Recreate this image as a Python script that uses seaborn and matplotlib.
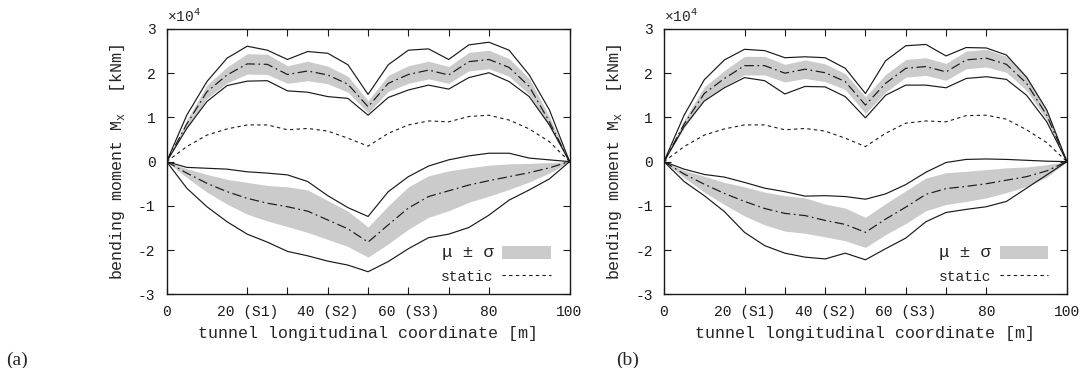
import numpy as np
import pandas as pd
import seaborn as sns
import matplotlib.pyplot as plt

# stations along the tunnel [m]
x = [0, 5, 10, 15, 20, 25, 30, 35, 40, 45, 50, 55, 60, 65, 70, 75, 80, 85, 90, 95, 100]

# panel (a), bending moment [kNm]
a_up_max = [0, 10500, 18100, 23400, 26100, 25200, 23100, 24900, 24500, 21900, 15200, 21900, 25200, 25500, 23100, 26400, 27000, 25200, 19600, 11700, 0]
a_up_mean = [0, 8500, 15800, 19600, 22100, 22000, 19700, 20500, 19600, 17500, 12400, 17700, 19700, 20700, 19600, 22600, 23100, 21300, 17000, 9000, 0]
a_up_sd = [0, 900, 1500, 1800, 2300, 2300, 2000, 2200, 2000, 1800, 1400, 1800, 2000, 2000, 1900, 2100, 2100, 2000, 1800, 1200, 0]
a_up_min = [0, 7500, 13600, 17200, 18200, 18300, 16000, 15700, 14700, 14300, 10500, 14500, 16200, 17300, 16400, 19000, 20100, 18100, 14700, 8300, 0]
a_static = [0, 3400, 6000, 7400, 8300, 8300, 7200, 7500, 6900, 5300, 3500, 6400, 8300, 9200, 9000, 10200, 10500, 9400, 7400, 4500, 0]
a_lo_max = [0, -1300, -1500, -1700, -2300, -2600, -3000, -4500, -7700, -10400, -12400, -6800, -3400, -1000, 400, 1300, 1900, 1900, 800, 400, 0]
a_lo_mean = [0, -2600, -4900, -6800, -8300, -9400, -10200, -11200, -13200, -15200, -18200, -14300, -10500, -7900, -6600, -5300, -4300, -3400, -2500, -1400, 0]
a_lo_sd = [0, 1000, 2000, 2800, 3600, 4000, 4500, 4800, 4400, 4000, 3400, 4300, 4800, 4700, 4500, 3900, 3500, 2900, 2100, 1200, 0]
a_lo_min = [0, -6000, -10200, -13600, -16400, -18200, -20300, -21300, -22500, -23400, -24900, -22600, -19700, -17200, -16400, -14900, -12100, -8700, -6400, -3900, 0]

# panel (b)
b_up_max = [0, 10500, 18500, 23000, 25400, 25100, 23500, 23700, 23500, 21100, 15400, 22800, 26200, 26500, 23900, 25800, 25700, 24100, 19100, 11700, 0]
b_up_mean = [0, 8500, 15400, 18800, 21700, 21700, 20000, 20900, 20100, 18100, 12800, 17700, 21100, 21500, 20300, 23000, 23400, 22000, 17700, 10500, 0]
b_up_sd = [0, 900, 1500, 1800, 2100, 2100, 2000, 2100, 2000, 1800, 1900, 2000, 2000, 2000, 1900, 2000, 2000, 1800, 1600, 1100, 0]
b_up_min = [0, 7900, 13700, 16700, 19000, 18300, 15300, 17000, 16900, 14700, 9900, 15000, 17300, 17300, 16700, 18800, 19200, 18600, 15000, 9000, 0]
b_static = [0, 3400, 6000, 7400, 8300, 8300, 7200, 7500, 6900, 5300, 3400, 6400, 8700, 9200, 9000, 10400, 10500, 9600, 7200, 4300, 0]
b_lo_max = [0, -1700, -2900, -3500, -4700, -6000, -6800, -7800, -7700, -7900, -8500, -7300, -5200, -2400, -200, 500, 600, 500, 300, 100, 0]
b_lo_mean = [0, -2800, -5100, -7200, -9000, -10600, -11700, -12200, -13300, -14200, -16000, -13000, -10300, -7400, -6100, -5600, -5000, -4200, -3400, -2100, 0]
b_lo_sd = [0, 800, 1800, 2500, 3300, 3700, 4000, 4000, 3700, 3700, 3400, 3500, 3700, 3700, 3600, 3400, 3200, 2800, 2200, 1400, 0]
b_lo_min = [0, -4500, -7700, -11300, -16000, -19000, -20700, -21600, -22000, -20700, -22200, -19700, -17300, -13600, -11500, -10800, -10200, -9000, -6000, -3000, 0]

xtick_pos = [0, 20, 30, 40, 50, 60, 70, 80, 100]
xtick_lab = ['0', '20 (S1)', '', '40 (S2)', '', '60 (S3)', '', '80', '100']
ytick_pos = [-3, -2, -1, 0, 1, 2, 3]

panels = {
    '(a)': dict(up_max=a_up_max, up_mean=a_up_mean, up_sd=a_up_sd, up_min=a_up_min,
                static=a_static, lo_max=a_lo_max, lo_mean=a_lo_mean, lo_sd=a_lo_sd, lo_min=a_lo_min),
    '(b)': dict(up_max=b_up_max, up_mean=b_up_mean, up_sd=b_up_sd, up_min=b_up_min,
                static=b_static, lo_max=b_lo_max, lo_mean=b_lo_mean, lo_sd=b_lo_sd, lo_min=b_lo_min),
}

sns.set_theme(style='ticks')
plt.rcParams['font.family'] = ['Liberation Mono', 'DejaVu Sans Mono']
plt.rcParams['font.size'] = 10.5
plt.rcParams['axes.unicode_minus'] = False
plt.rcParams['xtick.direction'] = 'in'
plt.rcParams['ytick.direction'] = 'in'

band_color = '#cbcbcb'
scale = 1e4

fig = plt.figure(figsize=(10.89, 3.68), dpi=100)
lefts = [0.153, 0.6097]

for (tag, d), left in zip(panels.items(), lefts):
    ax = fig.add_axes([left, 0.2003, 0.370, 0.721])
    df = pd.DataFrame({k: np.array(v) / scale for k, v in d.items()})
    df['x'] = x

    # upper and lower envelopes: band = mean +- sd, solid = max/min, dash-dot = mean
    for part in ['up', 'lo']:
        m = df[part + '_mean']
        s = df[part + '_sd']
        band = ax.fill_between(df['x'], m - s, m + s, color=band_color, lw=0, zorder=1)
        sns.lineplot(data=df, x='x', y=part + '_max', ax=ax, color='k', lw=0.85, zorder=3)
        sns.lineplot(data=df, x='x', y=part + '_min', ax=ax, color='k', lw=0.85, zorder=3)
        sns.lineplot(data=df, x='x', y=part + '_mean', ax=ax, color='k', lw=0.85,
                     linestyle=(0, (8, 3, 1.5, 3)), zorder=3)
    sns.lineplot(data=df, x='x', y='static', ax=ax, color='k', lw=0.8,
                 linestyle=(0, (3, 3)), zorder=3)
    static_line = ax.lines[-1]

    ax.set_xlim(0, 100)
    ax.set_ylim(-3, 3)
    ax.set_xticks(xtick_pos)
    ax.set_xticklabels(xtick_lab)
    ax.set_yticks(ytick_pos)
    ax.set_yticklabels([str(v) for v in ytick_pos])
    ax.tick_params(axis='both', which='both', top=True, right=True, length=5, width=0.8,
                   pad=8, labelsize=10.5, colors='k')
    for sp in ax.spines.values():
        sp.set_linewidth(1.0)
        sp.set_color('k')
    ax.set_xlabel('tunnel longitudinal coordinate [m]', labelpad=5)
    ax.set_ylabel('bending moment M$_\\mathregular{x}$  [kNm]', labelpad=8)
    ax.text(0, 1.015, '×10$^\\mathregular{4}$', transform=ax.transAxes,
            ha='left', va='bottom', fontsize=10.5)

    leg = ax.legend([band, static_line], ['μ ± σ', 'static'], loc='lower right',
                    bbox_to_anchor=(0.953, 0.04), frameon=False, markerfirst=False,
                    handlelength=3.3, handleheight=1.0, handletextpad=0.6,
                    labelspacing=0.6, borderpad=0, borderaxespad=0, fontsize=10.5)
    leg.get_texts()[0].set_fontsize(12.5)

fig.text(0.006, 0.022, '(a)', family='Liberation Serif', fontsize=14, ha='left', va='center')
fig.text(0.566, 0.022, '(b)', family='Liberation Serif', fontsize=14, ha='left', va='center')

fig.savefig('out.png', dpi=100)
